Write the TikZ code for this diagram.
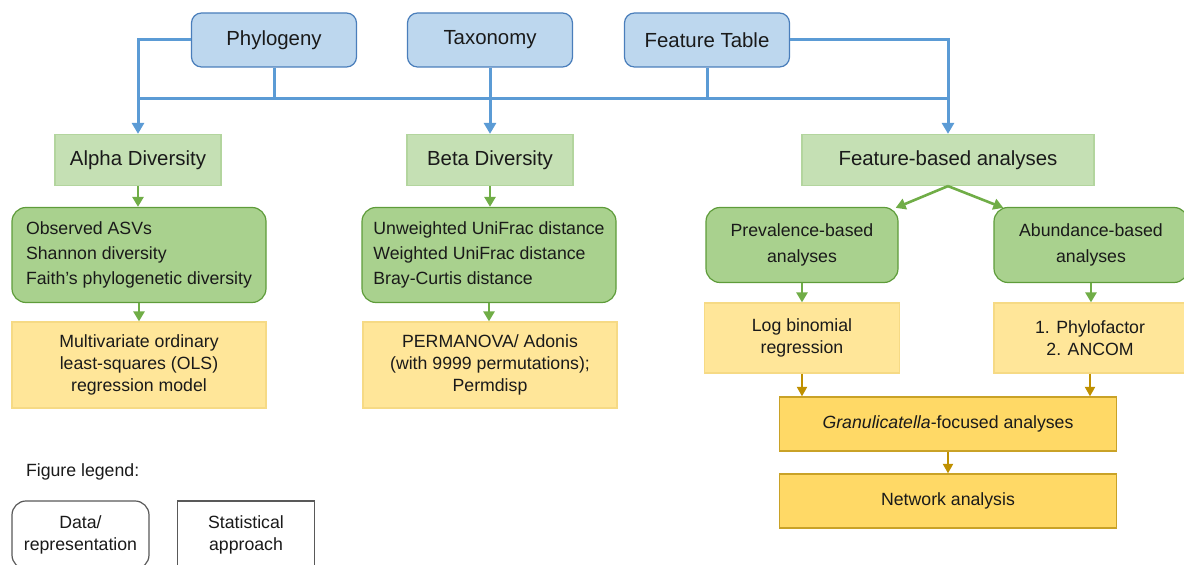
\documentclass[tikz,border=0pt]{standalone}
\usepackage{fontspec}
\setmainfont{Liberation Sans}
\usepackage{tikz}
\usetikzlibrary{arrows.meta,calc}

\definecolor{bluefill}{HTML}{BDD7EE}
\definecolor{blueline}{HTML}{5B9BD5}
\definecolor{blueedge}{HTML}{4A7EBB}
\definecolor{lgreen}{HTML}{C5E0B4}
\definecolor{lgreenedge}{HTML}{B3D59E}
\definecolor{mgreen}{HTML}{A9D18E}
\definecolor{mgreenedge}{HTML}{5E9C3A}
\definecolor{greenline}{HTML}{70AD47}
\definecolor{lyellow}{HTML}{FFE699}
\definecolor{lyellowedge}{HTML}{F6DA85}
\definecolor{gold}{HTML}{FFD966}
\definecolor{goldedge}{HTML}{C9A227}
\definecolor{goldline}{HTML}{BF9000}
\definecolor{txt}{HTML}{1A1A1A}

\newcommand{\bigtxt}{\fontsize{10.2}{12}\selectfont}
\newcommand{\smalltxt}{\fontsize{8.85}{10.8}\selectfont}

\tikzset{
  datanode/.style={draw=blueedge, fill=bluefill, rounded corners=5pt, line width=0.6pt,
    minimum width=82.5pt, minimum height=27pt, font=\bigtxt, text=txt},
  metricnode/.style={draw=lgreenedge, fill=lgreen, line width=0.6pt,
    minimum width=83pt, minimum height=25.5pt, font=\bigtxt, text=txt},
  measnode/.style={draw=mgreenedge, fill=mgreen, rounded corners=7pt, line width=0.6pt,
    minimum width=127pt, minimum height=47.5pt, font=\smalltxt, text=txt, align=left},
  statnode/.style={draw=lyellowedge, fill=lyellow, line width=0.6pt,
    minimum width=127pt, minimum height=43pt, font=\smalltxt, text=txt, align=center},
  focusnode/.style={draw=goldedge, fill=gold, line width=0.6pt,
    minimum width=168.5pt, minimum height=27pt, font=\smalltxt, text=txt},
  legnode/.style={draw=black!65, fill=white, line width=0.6pt,
    minimum width=68.5pt, minimum height=34pt, font=\smalltxt, text=txt, align=center},
  bus/.style={blueline, line width=1.5pt},
  barrow/.style={bus, -{Triangle[length=5.5pt,width=6pt]}},
  garrow/.style={greenline, line width=1.3pt, -{Triangle[length=5pt,width=5.5pt]}},
  yarrow/.style={goldline, line width=1.1pt, -{Triangle[length=4.8pt,width=5pt]}}
}

\begin{document}
\begin{tikzpicture}[x=0.5pt,y=-0.5pt]
\useasboundingbox (0,0) rectangle (1184,565);

% inputs
\node[datanode] (phylo) at (274,40) {Phylogeny};
\node[datanode] (taxo) at (490,40) {Taxonomy};
\node[datanode] (ftab) at (707,40) {Feature Table};

% diversity and feature level
\node[metricnode] (alpha) at (138,160) {Alpha Diversity};
\node[metricnode] (beta) at (490,160) {Beta Diversity};
\node[metricnode, minimum width=146pt] (fbased) at (948,160) {Feature-based analyses};

\node[measnode] (alphameas) at (139,255) {Observed ASVs\\[1.6pt]Shannon diversity\\[1.6pt]Faith’s phylogenetic diversity};
\node[measnode] (betameas) at (489,255) {Unweighted UniFrac distance\\[1.6pt]Weighted UniFrac distance\\[1.6pt]Bray-Curtis distance};
\node[measnode, minimum width=96pt, minimum height=37.5pt, align=center] (prev) at (802,245) {Prevalence-based\\[2pt]analyses};
\node[measnode, minimum width=97pt, minimum height=37.5pt, align=center] (abund) at (1091,245) {Abundance-based\\[2pt]analyses};

% statistical approaches
\node[statnode] (ols) at (139,365) {Multivariate ordinary\\least-squares (OLS)\\regression model};
\node[statnode] (perm) at (490,365) {PERMANOVA/ Adonis\\(with 9999 permutations);\\Permdisp};
\node[statnode, minimum width=97.5pt, minimum height=35pt] (logbin) at (802,338) {Log binomial\\regression};
\node[statnode, minimum width=96pt, minimum height=35pt] (phylof) at (1090,338) {1. Phylofactor\\2. ANCOM};

\node[focusnode] (gran) at (948,424) {\textit{Granulicatella}-focused analyses};
\node[focusnode] (network) at (948,501) {Network analysis};

% legend
\node[anchor=west, font=\smalltxt, text=txt] (legtitle) at (19,472) {Figure legend:};
\node[legnode, rounded corners=7pt] (legdata) at (80.5,535) {Data/\\representation};
\node[legnode] (legstat) at (246,535) {Statistical\\approach};

% blue bus
\coordinate (busL) at (138,99);
\coordinate (busR) at (947,99);
\draw[bus] (busL) -- (busR);
\draw[barrow] (phylo.west) -| (alpha.north);
\draw[bus] (phylo.south) -- (phylo.south |- busL);
\draw[barrow] (taxo.south) -- (beta.north);
\draw[bus] (ftab.south) -- (ftab.south |- busL);
\draw[barrow] (ftab.east) -| (fbased.north);

% green arrows
\draw[garrow] (alpha.south) -- (alphameas.north -| alpha.south);
\draw[garrow] (beta.south) -- (betameas.north -| beta.south);
\draw[garrow] (alphameas.south) -- (ols.north -| alphameas.south);
\draw[garrow] (betameas.south) -- (perm.north -| betameas.south);
\draw[garrow] (fbased.south) -- ($(prev.north east)+(-3,1)$);
\draw[garrow] (fbased.south) -- ($(abund.north west)+(10,1)$);
\draw[garrow] (prev.south) -- (logbin.north);
\draw[garrow] (abund.south) -- (phylof.north -| abund.south);

% gold arrows
\draw[yarrow] (logbin.south) -- (gran.north -| logbin.south);
\draw[yarrow] (phylof.south) -- (gran.north -| phylof.south);
\draw[yarrow] (gran.south) -- (network.north);

\end{tikzpicture}
\end{document}
